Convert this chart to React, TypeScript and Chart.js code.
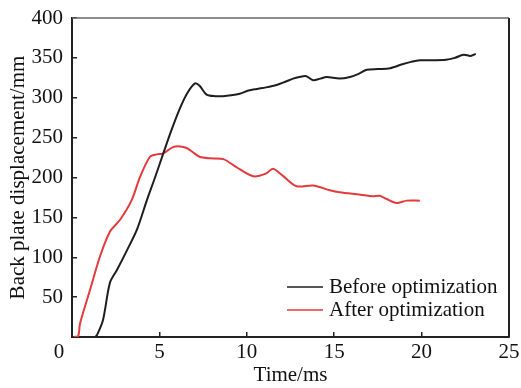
import React, { useEffect, useRef } from "react";
import { Chart, registerables } from "chart.js";

Chart.register(...registerables);

const beforeX = [1.32, 1.43, 1.77, 2.17, 2.57, 3.15, 3.72, 4.29, 4.75, 5.22, 5.7, 6.18, 6.6, 7.04, 7.3, 7.7, 8.2, 8.64, 9.1, 9.6, 10.1, 10.57, 11.1, 11.7, 12.2, 12.65, 13.0, 13.4, 13.8, 14.2, 14.57, 15.3, 15.9, 16.4, 16.86, 17.5, 18.2, 18.9, 19.4, 19.9, 20.6, 21.4, 21.9, 22.4, 22.8, 23.1];
const beforeY = [0, 2.5, 21, 68, 84, 109, 135, 172, 200, 230, 260, 287, 306, 318, 315, 304, 302, 302, 303, 305, 309, 311, 313, 316, 320, 324, 326, 327, 322, 324, 326, 324, 326, 330, 335, 336, 337, 342, 345, 347, 347, 347.5, 350, 354, 352.5, 355];

const afterX = [0.1, 0.35, 0.46, 1.03, 1.6, 2.17, 2.75, 3.42, 3.9, 4.46, 4.84, 5.2, 5.78, 6.18, 6.56, 6.9, 7.3, 7.9, 8.66, 9.4, 10.37, 11.1, 11.5, 12.07, 12.85, 13.8, 14.76, 15.3, 16.5, 17.2, 17.6, 18.0, 18.57, 19.15, 19.9];
const afterY = [0, 1, 17, 59, 101, 132, 147, 172, 201, 226, 229, 230, 238, 239, 237, 232, 226, 224, 223, 213, 201.5, 205, 211, 202, 189, 190, 184, 181.5, 178.5, 176.5, 177, 173, 168, 171, 171];

const seriesLabels = ["Before optimization", "After optimization"];
const seriesColors = ["#1e1e1e", "#e5393c"];
const xTitle = "Time/ms";
const yTitle = "Back plate displacement/mm";

const FONT = '"Liberation Serif", "Times New Roman", serif';

export default function App() {
  const ref = useRef<HTMLCanvasElement>(null);
  useEffect(() => {
    document.body.style.margin = "0";
    const canvas = ref.current!;
    const frame = {
      id: "frame",
      afterDraw(chart: any) {
        const { ctx, chartArea: a } = chart;
        ctx.save();
        ctx.lineWidth = 1.5;
        ctx.strokeStyle = "#666";
        ctx.beginPath();
        ctx.moveTo(a.left, a.top);
        ctx.lineTo(a.right, a.top);
        ctx.stroke();
        ctx.lineWidth = 2;
        ctx.strokeStyle = "#222";
        ctx.beginPath();
        ctx.moveTo(a.right, a.top);
        ctx.lineTo(a.right, a.bottom);
        ctx.stroke();
        // legend
        ctx.font = "21px " + FONT;
        ctx.textBaseline = "middle";
        ctx.textAlign = "left";
        const rows = [a.bottom - 50, a.bottom - 27];
        rows.forEach((y, i) => {
          ctx.strokeStyle = seriesColors[i];
          ctx.lineWidth = 1.5;
          ctx.beginPath();
          ctx.moveTo(a.right - 222, y);
          ctx.lineTo(a.right - 186, y);
          ctx.stroke();
          ctx.fillStyle = "#111";
          ctx.fillText(seriesLabels[i], a.right - 180, y);
        });
        ctx.restore();
      },
    };
    const tickFont = { family: FONT, size: 21 };
    const chart = new Chart(canvas, {
      type: "line",
      data: {
        datasets: [
          {
            label: seriesLabels[0],
            data: beforeX.map((x, i) => ({ x, y: beforeY[i] })),
            borderColor: seriesColors[0],
            borderWidth: 2,
            pointRadius: 0,
            tension: 0.3,
          },
          {
            label: seriesLabels[1],
            data: afterX.map((x, i) => ({ x, y: afterY[i] })),
            borderColor: seriesColors[1],
            borderWidth: 2,
            pointRadius: 0,
            tension: 0.3,
          },
        ],
      },
      options: {
        responsive: false,
        animation: false,
        layout: { padding: { left: 0, right: 12, top: 18, bottom: 0 } },
        plugins: { legend: { display: false }, tooltip: { enabled: false } },
        scales: {
          x: {
            type: "linear",
            min: 0,
            max: 25,
            ticks: {
              stepSize: 5,
              autoSkip: false,
              maxRotation: 0,
              font: tickFont,
              color: "#111",
              padding: 8,
              callback: (v: any) => (v === 0 ? "0     " : String(v)),
            },
            grid: { drawOnChartArea: false, tickLength: -5, color: "#222", lineWidth: 1.5 },
            border: { color: "#222", width: 2 },
            title: { display: true, text: xTitle, font: tickFont, color: "#111", padding: { top: 0, bottom: 0 } },
            afterFit(s: any) {
              s.height = 51;
              s.paddingLeft = 0;
              s.paddingRight = 0;
            },
          },
          y: {
            min: 0,
            max: 400,
            ticks: {
              stepSize: 50,
              font: tickFont,
              color: "#111",
              padding: 14,
              callback: (v: any) => (v === 0 ? "" : String(v)),
            },
            grid: { drawOnChartArea: false, tickLength: -5, color: "#222", lineWidth: 1.5 },
            border: { color: "#222", width: 2 },
            title: { display: true, text: yTitle, font: tickFont, color: "#111", padding: { top: 6, bottom: 0 } },
            afterFit(s: any) {
              s.width = 72;
              s.paddingTop = 0;
              s.paddingBottom = 0;
            },
          },
        },
      },
      plugins: [frame],
    } as any);
    return () => chart.destroy();
  }, []);
  return <canvas ref={ref} width={521} height={388} style={{ display: "block" }} />;
}
